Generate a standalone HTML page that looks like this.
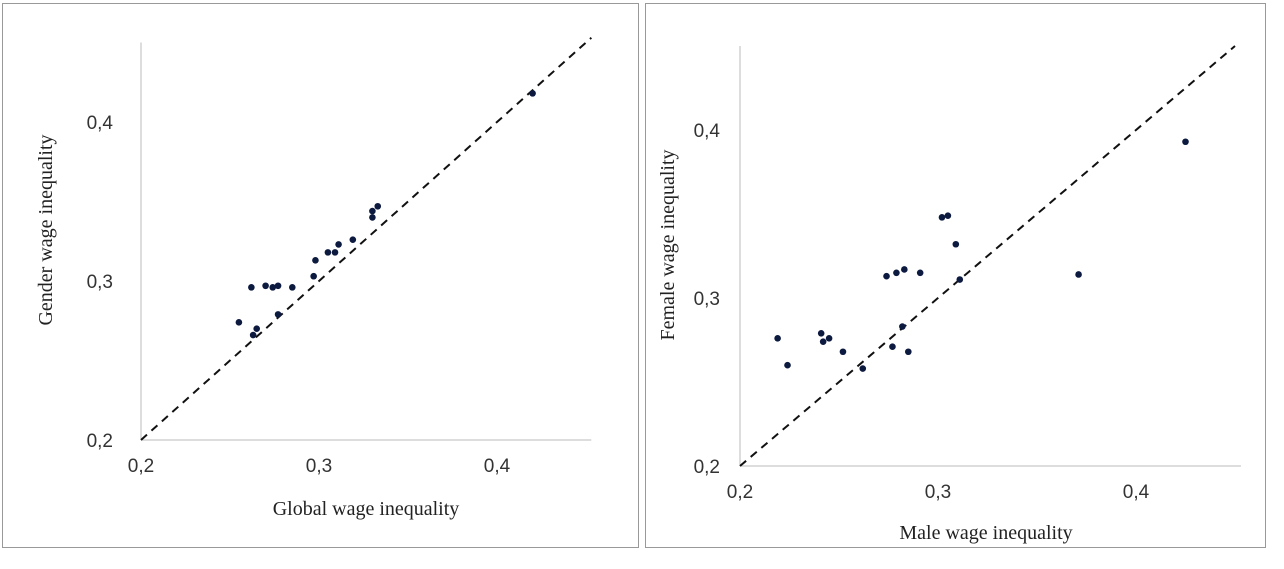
<!DOCTYPE html>
<html><head><meta charset="utf-8"><style>
html,body{margin:0;padding:0;background:#fff;width:1284px;height:569px;overflow:hidden}
svg{display:block}
.tick{font-family:"Liberation Sans",sans-serif;font-size:19px;fill:#333}
.ttl{font-family:"Liberation Serif",serif;font-size:20px;fill:#222}
</style></head><body>
<svg id="s" width="1284" height="569">
<rect x="2.5" y="3.5" width="636" height="544" fill="none" stroke="#999"/>
<rect x="645.5" y="3.5" width="620" height="544" fill="none" stroke="#999"/>
</svg>
<script>
const leftX=[0.255,0.262,0.263,0.265,0.270,0.274,0.277,0.277,0.285,0.297,0.298,0.305,0.309,0.311,0.319,0.330,0.330,0.333,0.420];
const leftY=[0.274,0.296,0.266,0.270,0.297,0.296,0.297,0.279,0.296,0.303,0.313,0.318,0.318,0.323,0.326,0.340,0.344,0.347,0.418];
const rightX=[0.219,0.224,0.241,0.242,0.245,0.252,0.262,0.274,0.279,0.283,0.291,0.277,0.282,0.285,0.302,0.305,0.309,0.311,0.371,0.425];
const rightY=[0.276,0.260,0.279,0.274,0.276,0.268,0.258,0.313,0.315,0.317,0.315,0.271,0.283,0.268,0.348,0.349,0.332,0.311,0.314,0.393];
const ticks=[0.2,0.3,0.4];
const tickLabels=["0,2","0,3","0,4"];
const NS="http://www.w3.org/2000/svg";
const svg=document.getElementById('s');
function mk(t,a){const e=document.createElementNS(NS,t);for(const k in a)e.setAttribute(k,a[k]);svg.appendChild(e);return e;}
function chart(p,xs,ys,side){
  const sx=v=>p.x0+(v-0.2)*p.kx, sy=v=>p.y0-(v-0.2)*p.ky;
  let e=mk('line',{x1:sx(0.2),y1:sy(0.2),x2:sx(0.453),y2:sy(0.2),stroke:'#bbb','stroke-width':1});
  
  
  e=mk('line',{x1:sx(0.2),y1:sy(0.2),x2:sx(0.2),y2:sy(0.45),stroke:'#bbb','stroke-width':1});
  
  
  e=mk('line',{x1:sx(0.2),y1:sy(0.2),x2:sx(p.dEnd),y2:sy(p.dEnd),stroke:'#111','stroke-width':2,'stroke-dasharray':'8,6'});
  
  
  ticks.forEach((t,i)=>{
    let a=mk('text',{x:sx(t),y:sy(0.2)+p.xlo,'text-anchor':'middle',class:'tick'});a.textContent=tickLabels[i];
    
    
    let b=mk('text',{x:sx(0.2)-p.ylo,y:sy(t)+7,'text-anchor':'end',class:'tick'});b.textContent=tickLabels[i];
    
    
  });
  xs.forEach((v,i)=>{
    const c=mk('circle',{cx:sx(v),cy:sy(ys[i]),r:3.3,fill:'#0d1a3f'});
    
    
  });
  let t=mk('text',{x:p.xtx,y:p.xty,'text-anchor':'middle',class:'ttl'});t.textContent=p.xt;
  
  
  t=mk('text',{x:0,y:0,'text-anchor':'middle',class:'ttl',transform:`translate(${p.ytx},${p.yty}) rotate(-90)`});t.textContent=p.yt;
  
  
}
chart({x0:141,y0:440,kx:1780,ky:1590,dEnd:0.453,xlo:32,ylo:28,xt:'Global wage inequality',xtx:366,xty:515,yt:'Gender wage inequality',ytx:52,yty:230},leftX,leftY,'left');
chart({x0:740,y0:466,kx:1980,ky:1680,dEnd:0.45,xlo:32,ylo:20,xt:'Male wage inequality',xtx:986,xty:539,yt:'Female wage inequality',ytx:674,yty:245},rightX,rightY,'right');
</script>
</body></html>
